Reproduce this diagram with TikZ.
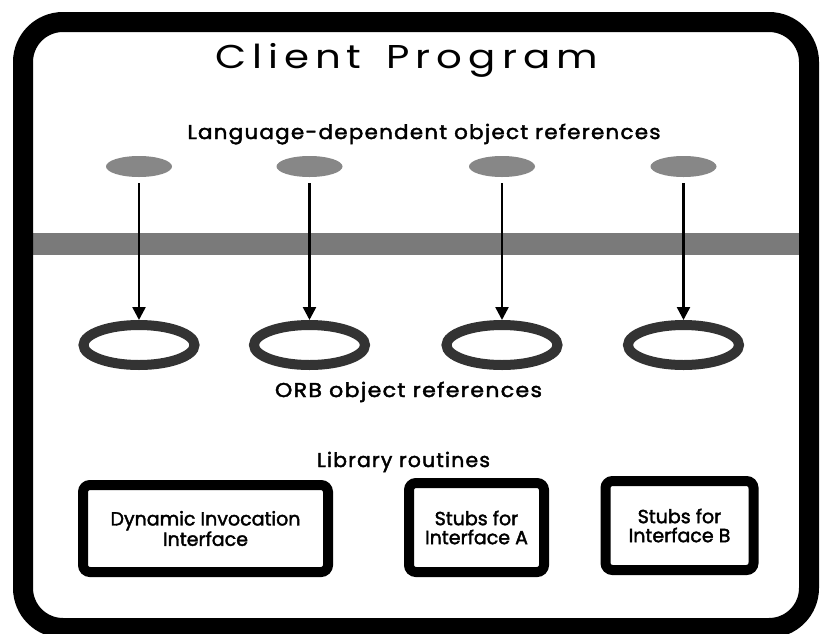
\documentclass[tikz,border=0pt]{standalone}
\usepackage{fontspec}
\usepackage{graphicx}
\setmainfont{Poppins}
\newfontfamily\titlefont{Poppins}[LetterSpace=15]
\newfontfamily\lblfont{Poppins}[FakeBold=2,LetterSpace=6]
\newfontfamily\boxfont{Poppins}[FakeBold=2]
\usetikzlibrary{arrows.meta,shapes.geometric}

% set a line of text to a given width, keeping its height
\newcommand\fitw[2]{\resizebox{#1}{\height}{#2}}

\tikzset{
  frame/.style={line width=20pt, rounded corners=40pt},
  band/.style={fill=black!52},
  langref/.style={ellipse, fill=black!47, minimum width=66pt, minimum height=21pt, inner sep=0pt},
  orbref/.style={ellipse, draw=black!80, line width=10pt, minimum width=111pt, minimum height=40pt, inner sep=0pt},
  conn/.style={line width=2.5pt, -{Triangle[length=13pt,width=13pt]}, shorten <=6pt},
  label/.style={font=\lblfont\fontsize{20}{22}\selectfont, anchor=base, inner sep=0pt},
  libbox/.style={draw, line width=10pt, rounded corners=7pt, align=center, inner sep=0pt,
                 font=\boxfont\fontsize{19}{19}\selectfont}
}

\begin{document}
\begin{tikzpicture}[x=1pt,y=-1pt]
\useasboundingbox (0,0) rectangle (820,633);
\fill[white] (0,0) rectangle (820,633);

% boundary between language references and ORB references
\fill[band] (30,233) rectangle (802,255);

% client program frame
\draw[frame] (23,22) rectangle (809,628);

\node[font=\titlefont\fontsize{33}{36}\selectfont, anchor=base, inner sep=0pt] (title) at (406.5,68) {\fitw{383pt}{Client\hspace{0.2em} Program}};

\node[label] (langlbl) at (424,139) {\fitw{473pt}{Language-dependent object references}};

% language-dependent references
\node[langref] (l1) at (139,166.5) {};
\node[langref] (l2) at (309.5,166.5) {};
\node[langref] (l3) at (502,166.5) {};
\node[langref] (l4) at (683.5,166.5) {};

% ORB references
\node[orbref] (r1) at (139,345) {};
\node[orbref] (r2) at (309.5,345) {};
\node[orbref] (r3) at (502,345) {};
\node[orbref] (r4) at (683.5,345) {};

\draw[conn] (l1) -- (r1);
\draw[conn] (l2) -- (r2);
\draw[conn] (l3) -- (r3);
\draw[conn] (l4) -- (r4);

\node[label] (orblbl) at (408.5,397) {\fitw{267pt}{ORB object references}};
\node[label] (liblbl) at (403.5,467) {\fitw{173pt}{Library routines}};

% library routines
\node[libbox, minimum width=245pt, minimum height=87pt] (dii) at (205.5,528.5) {Dynamic Invocation\\Interface};
\node[libbox, minimum width=135pt, minimum height=89pt] (stubA) at (476.5,527.5) {Stubs for\\Interface A};
\node[libbox, minimum width=148pt, minimum height=89pt] (stubB) at (679.5,525.5) {Stubs for\\Interface B};
\end{tikzpicture}
\end{document}
